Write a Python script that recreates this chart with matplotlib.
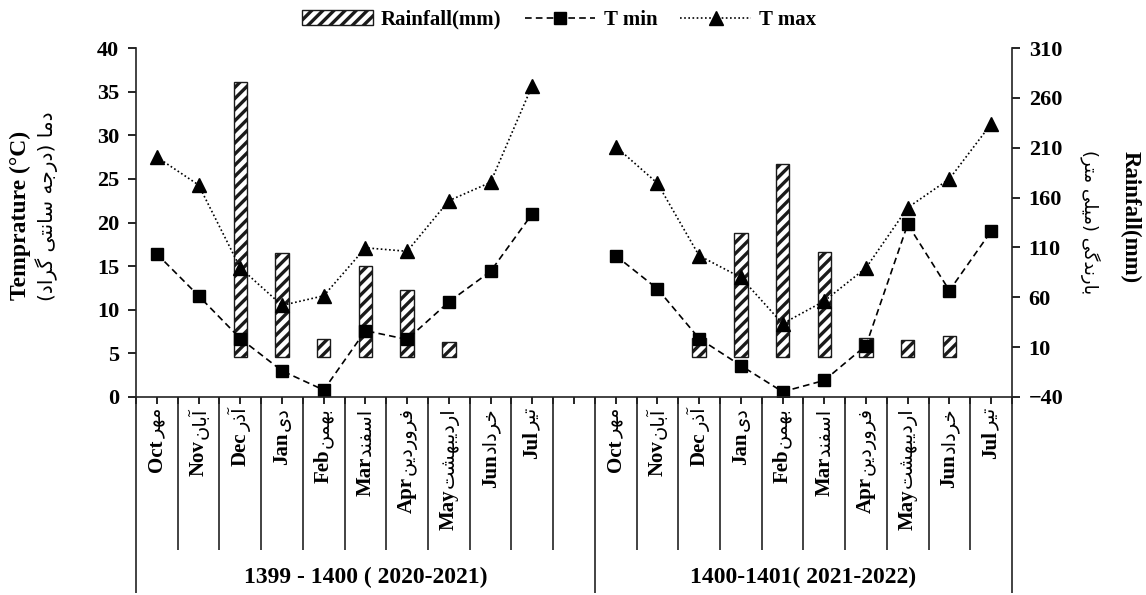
import numpy as np
import matplotlib
matplotlib.use('Agg')
import matplotlib.pyplot as plt

plt.rcParams['font.family'] = ['Liberation Serif', 'DejaVu Sans']
plt.rcParams['font.weight'] = 'bold'
plt.rcParams['hatch.linewidth'] = 2.4

# ---- data ----
months_en = ['Oct', 'Nov', 'Dec', 'Jan', 'Feb', 'Mar', 'Apr', 'May', 'Jun', 'Jul']
months_fa = ['مهر', 'آبان', 'آذر', 'دی', 'بهمن', 'اسفند', 'فروردین',
             'اردیبهشت', 'خرداد', 'تیر']
groups = ['1399 - 1400 ( 2020-2021)', '1400-1401( 2021-2022)']

tmin_1 = [16.4, 11.6, 6.7, 3.0, 0.8, 7.6, 6.6, 10.9, 14.4, 21.0]
tmax_1 = [27.5, 24.3, 14.8, 10.5, 11.6, 17.1, 16.7, 22.5, 24.6, 35.7]
rain_1 = [0, 0, 276, 104, 18, 91, 67, 15, 0, 0]

tmin_2 = [16.2, 12.4, 6.7, 3.6, 0.6, 1.9, 5.9, 19.8, 12.2, 19.0]
tmax_2 = [28.7, 24.5, 16.2, 13.7, 8.4, 11.0, 14.8, 21.7, 25.0, 31.3]
rain_2 = [0, 0, 19, 124, 194, 105, 19, 17, 21, 0]

# ---- tiny persian shaper (matplotlib has no arabic shaping) ----
FORMS = {
    'ا': ('\uFE8D', '\uFE8E', None, None),
    'آ': ('\uFE81', '\uFE82', None, None),
    'ب': ('\uFE8F', '\uFE90', '\uFE91', '\uFE92'),
    'ت': ('\uFE95', '\uFE96', '\uFE97', '\uFE98'),
    'ج': ('\uFE9D', '\uFE9E', '\uFE9F', '\uFEA0'),
    'خ': ('\uFEA5', '\uFEA6', '\uFEA7', '\uFEA8'),
    'د': ('\uFEA9', '\uFEAA', None, None),
    'ذ': ('\uFEAB', '\uFEAC', None, None),
    'ر': ('\uFEAD', '\uFEAE', None, None),
    'س': ('\uFEB1', '\uFEB2', '\uFEB3', '\uFEB4'),
    'ش': ('\uFEB5', '\uFEB6', '\uFEB7', '\uFEB8'),
    'ف': ('\uFED1', '\uFED2', '\uFED3', '\uFED4'),
    'ل': ('\uFEDD', '\uFEDE', '\uFEDF', '\uFEE0'),
    'م': ('\uFEE1', '\uFEE2', '\uFEE3', '\uFEE4'),
    'ن': ('\uFEE5', '\uFEE6', '\uFEE7', '\uFEE8'),
    'ه': ('\uFEE9', '\uFEEA', '\uFEEB', '\uFEEC'),
    'و': ('\uFEED', '\uFEEE', None, None),
    '\u06CC': ('\uFBFC', '\uFBFD', '\uFBFE', '\uFBFF'),
    '\u06AF': ('\uFB92', '\uFB93', '\uFB94', '\uFB95'),
}


def fa(text):
    text = text.replace('\u064A', '\u06CC')
    out = []
    for i, ch in enumerate(text):
        if ch not in FORMS:
            out.append(ch)
            continue
        prev = text[i - 1] if i > 0 else None
        nxt = text[i + 1] if i + 1 < len(text) else None
        jp = prev in FORMS and FORMS[prev][2] is not None
        jn = FORMS[ch][2] is not None and nxt in FORMS
        f = FORMS[ch]
        if jp and jn:
            out.append(f[3])
        elif jp:
            out.append(f[1])
        elif jn:
            out.append(f[2])
        else:
            out.append(f[0])
    s = ''.join(reversed(out))
    return s.translate(str.maketrans('()', ')('))


W, H = 1146, 595
fig = plt.figure(figsize=(W / 100, H / 100), dpi=100)
ax = fig.add_axes([136 / W, 198 / H, 876 / W, 349 / H])
ax2 = ax.twinx()

x1 = np.arange(10)
x2 = np.arange(11, 21)

# rainfall bars (right axis)
for xs, rain in ((x1, rain_1), (x2, rain_2)):
    rain = np.array(rain)
    m = rain > 0
    bars = ax2.bar(xs[m], rain[m], width=0.32, bottom=0, color='white',
                   edgecolor='#1a1a1a', linewidth=1.0, hatch='///')
    if xs[0] == 0:
        bar_handle = bars

ax2.set_ylim(-40, 310)
ax2.set_yticks(np.arange(-40, 311, 50))

# temperature lines (left axis)
for xs, tmin, tmax in ((x1, tmin_1, tmax_1), (x2, tmin_2, tmax_2)):
    lmin, = ax.plot(xs, tmin, color='black', linestyle=(0, (4, 2.5)), linewidth=1.2,
                    marker='s', markersize=8)
    lmax, = ax.plot(xs, tmax, color='black', linestyle=(0, (1, 1.5)), linewidth=1.2,
                    marker='^', markersize=10)
    if xs[0] == 0:
        h_min, h_max = lmin, lmax

ax.set_zorder(ax2.get_zorder() + 1)
ax.patch.set_visible(False)
ax.set_ylim(0, 40)
ax.set_yticks(np.arange(0, 41, 5))
ax.set_xlim(-0.5, 20.5)
ax.set_xticks(np.arange(-0.5, 20.6, 0.5))
ax.set_xticklabels([])

for a in (ax, ax2):
    a.spines['top'].set_visible(False)
ax.spines['right'].set_visible(False)
ax2.spines['left'].set_visible(False)
ax2.spines['bottom'].set_visible(False)
for a in (ax, ax2):
    for s in a.spines.values():
        s.set_linewidth(1.2)
        s.set_color('#222222')
ax.tick_params(axis='y', direction='out', length=6, width=1.2, labelsize=16, pad=6)
ax2.tick_params(axis='y', direction='out', length=6, width=1.2, labelsize=16, pad=6)
ax.tick_params(axis='x', direction='out', length=5, width=1.2)

# category separators and group separators below the axis
tr = ax.get_xaxis_transform()
inner = [k - 0.5 for k in range(1, 11)] + [k - 0.5 for k in range(12, 21)]
ax.vlines(inner, -0.438, 0, transform=tr, clip_on=False, color='#222222', linewidth=1.2)
ax.vlines([-0.5, 10.5, 20.5], -0.562, 0, transform=tr, clip_on=False,
          color='#222222', linewidth=1.2)

# month labels: persian on top, english under it
for xs in (x1, x2):
    for xi, en, faw in zip(xs, months_en, months_fa):
        t = ax.text(xi, -0.03, fa(faw), transform=tr, rotation=90, ha='center',
                    va='top', fontsize=14, fontweight='normal', family='DejaVu Sans')
        ax.annotate(en, xy=(0.5, 0), xycoords=t, xytext=(0, -1),
                    textcoords='offset points', rotation=90, ha='center', va='top',
                    fontsize=15, fontweight='bold')

ax.text(5, -0.518, groups[0], transform=tr, ha='center', va='center', fontsize=17)
ax.text(15.5, -0.518, groups[1], transform=tr, ha='center', va='center', fontsize=17)

# axis titles
fig.text(20 / W, 1 - 215 / H, 'Temprature (°C)', rotation=90, ha='center',
         va='center', fontsize=17)
fig.text(47 / W, 1 - 206 / H, fa('دما (درجه سانتی گراد)'), rotation=90, ha='center',
         va='center', fontsize=14.5, fontweight='normal', family='DejaVu Sans')
fig.text(1130 / W, 1 - 217 / H, 'Rainfall(mm)', rotation=270, ha='center',
         va='center', fontsize=16.5)
fig.text(1090 / W, 1 - 222 / H, fa('بارندگی (میلی متر)'), rotation=270, ha='center',
         va='center', fontsize=13, fontweight='normal', family='DejaVu Sans')

fig.legend([bar_handle, h_min, h_max], ['Rainfall(mm)', 'T min', 'T max'],
           loc='upper center', bbox_to_anchor=(0.488, 1.015), ncol=3, frameon=False,
           fontsize=15, handlelength=3.4, columnspacing=1.1, handletextpad=0.4)

fig.savefig('out.png', dpi=100)
